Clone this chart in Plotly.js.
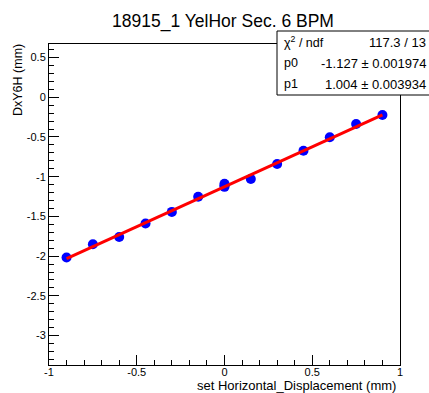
<!DOCTYPE html>
<html>
<head>
<meta charset="utf-8">
<script src="https://cdn.plot.ly/plotly-3.0.1.min.js"></script>
<style>html,body{margin:0;padding:0;background:#fff;}#plot{width:429px;height:393px;}</style>
</head>
<body>
<div id="plot"></div>
<script>
// data
const xVals = [-0.9, -0.75, -0.6, -0.45, -0.3, -0.15, 0, 0, 0, 0.15, 0.3, 0.45, 0.6, 0.75, 0.9];
const yVals = [-2.018, -1.85, -1.758, -1.589, -1.443, -1.253, -1.09, -1.11, -1.128, -1.03, -0.84, -0.673, -0.504, -0.337, -0.223];
const fitX = [-0.9, 0.9];
const fitY = [-2.031, -0.223];
const xTickVals = [-1, -0.5, 0, 0.5, 1];
const xTickText = ["-1", "-0.5", "0", "0.5", "1"];
const yTickVals = [-3, -2.5, -2, -1.5, -1, -0.5, 0, 0.5];
const yTickText = ["-3", "-2.5", "-2", "-1.5", "-1", "-0.5", "0", "0.5"];
const titleText = "18915_1 YelHor Sec. 6 BPM";
const xTitle = "set Horizontal_Displacement (mm)";
const yTitle = "DxY6H (mm)";
const statLabels = ["χ<sup>2</sup> / ndf", "p0", "p1"];
const statValues = ["117.3 / 13", "-1.127 ± 0.001974", "1.004 ± 0.003934"];

const W = 429, H = 393, L = 49, R = 29, T = 44, B = 28;
const pw = W - L - R, ph = H - T - B;
const px = v => (v - L) / pw;
const py = v => (H - B - v) / ph;
const font = "Liberation Sans, Arial, Helvetica, sans-serif";

const annotations = [
  {text: xTitle, xref: 'paper', yref: 'paper', x: px(398), y: py(385), xanchor: 'right', yanchor: 'middle', showarrow: false, font: {family: font, size: 13, color: '#000'}},
  {text: yTitle, xref: 'paper', yref: 'paper', x: px(18), y: py(80), xanchor: 'center', yanchor: 'middle', textangle: -90, showarrow: false, font: {family: font, size: 12.5, color: '#000'}}
];
const rowY = [42, 63, 84];
statLabels.forEach((s, i) => {
  annotations.push({text: s, xref: 'paper', yref: 'paper', x: px(282), y: py(rowY[i]), xanchor: 'left', yanchor: 'middle', showarrow: false, font: {family: font, size: 12.5, color: '#000'}});
  annotations.push({text: statValues[i], xref: 'paper', yref: 'paper', x: px(428), y: py(rowY[i]), xanchor: 'right', yanchor: 'middle', showarrow: false, font: {family: font, size: 13, color: '#000'}});
});

const axisCommon = {
  showgrid: false, zeroline: false, showline: true, mirror: true,
  linecolor: '#000', linewidth: 1, ticks: 'inside', ticklen: 10, tickwidth: 1, tickcolor: '#000',
  tickfont: {family: font, size: 11, color: '#000'}, tickmode: 'array',
  minor: {ticks: 'inside', ticklen: 5, tickwidth: 1, tickcolor: '#000', tickmode: 'linear', tick0: 0, dtick: 0.1, showgrid: false}
};

const traces = [
  {x: xVals, y: yVals, type: 'scatter', mode: 'markers', marker: {color: '#0000ff', size: 10, line: {width: 0}}, hoverinfo: 'skip'},
  {x: fitX, y: fitY, type: 'scatter', mode: 'lines', line: {color: '#ff0000', width: 3}, hoverinfo: 'skip'}
];

const layout = {
  width: W, height: H,
  margin: {l: L, r: R, t: T, b: B, pad: 0},
  paper_bgcolor: '#fff', plot_bgcolor: '#fff',
  showlegend: false,
  title: {text: titleText, x: 223 / W, xanchor: 'center', y: 1 - 21 / H, yanchor: 'middle', font: {family: font, size: 17.5, color: '#000'}},
  xaxis: Object.assign({}, axisCommon, {range: [-1, 1], tickvals: xTickVals, ticktext: xTickText, ticklabelstandoff: -3}),
  yaxis: Object.assign({}, axisCommon, {range: [-3.37, 0.67], tickvals: yTickVals, ticktext: yTickText}),
  shapes: [
    {type: 'rect', xref: 'paper', yref: 'paper', x0: px(277), x1: px(432), y0: py(95), y1: py(31), line: {color: '#000', width: 1}, fillcolor: '#fff', layer: 'above'}
  ],
  annotations: annotations
};

Plotly.newPlot('plot', traces, layout, {staticPlot: true, displayModeBar: false});
</script>
</body>
</html>
